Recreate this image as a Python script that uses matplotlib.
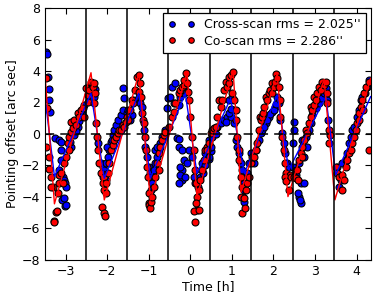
import matplotlib
matplotlib.use('Agg')
import matplotlib.pyplot as plt
import numpy as np

# cross-scan measurements (time [h], offset [arcsec])
cross_points = [
    (-3.47, 5.2), (-3.46, 5.05), (-3.42, 3.6), (-3.40, 2.85), (-3.39, 2.15), (-3.37, 1.4),
    (-3.26, -0.25), (-3.16, -0.4), (-3.12, -0.5), (-3.11, -1.65), (-3.15, -2.29), (-3.07, -2.71),
    (-3.03, -2.92), (-3.02, -3.1), (-2.99, -3.34), (-3.09, -4.2), (-3.01, -4.6), (-2.99, -4.51),
    (-3.03, -4.08), (-3.11, -1.02), (-2.87, -0.8), (-2.79, -0.06), (-2.71, 0.47), (-2.63, 1.1),
    (-2.55, 1.84), (-2.9, -0.5), (-2.75, 0.2), (-2.67, 0.8), (-2.6, 1.4),
    (-2.39, 3.0), (-2.35, 2.58), (-2.31, 2.37), (-2.29, 2.85), (-2.23, -0.59), (-2.15, -1.86),
    (-2.11, -2.07), (-2.07, -2.29), (-2.03, -1.86), (-1.99, -1.44), (-1.95, -1.02), (-1.91, -0.49),
    (-1.87, -0.06), (-1.83, 0.25), (-1.79, 0.57), (-1.75, 0.89), (-1.67, 1.21), (-1.63, 1.52),
    (-1.63, 2.9), (-1.59, 2.26), (-2.11, -2.71), (-2.04, -2.92), (-2.0, -0.8), (-1.88, -0.38),
    (-1.53, 1.31), (-1.49, 1.52), (-1.45, 0.9), (-1.4, 1.2), (-1.37, 2.16), (-1.24, 2.37),
    (-1.2, 1.95), (-1.16, 1.74), (-1.12, 0.25), (-1.08, -0.80), (-1.04, -1.44), (-1.0, -2.07),
    (-0.96, -2.50), (-0.92, -2.71), (-0.88, -2.29), (-0.84, -1.86), (-0.80, -1.44), (-0.76, -1.02),
    (-0.72, -0.59), (-0.68, -0.17), (-0.6, 0.25), (-0.91, -3.13), (-0.94, -3.56), (-0.84, -1.02),
    (-0.8, -0.8),
    (-0.56, 1.63), (-0.54, 2.3), (-0.48, 2.37), (-0.44, 3.0), (-0.40, 1.95), (-0.36, 3.22),
    (-0.28, 1.84), (-0.24, 2.37), (-0.16, 2.58), (-0.12, 2.79), (-0.32, -0.28), (-0.27, -0.3),
    (-0.28, -0.80), (-0.2, -1.02), (-0.16, -1.65), (-0.2, -2.29), (-0.19, -2.92), (-0.25, -2.6),
    (-0.27, -3.1), (-0.12, -2.71), (-0.04, -1.02), (0.04, -1.44), (0.08, -2.71), (0.12, -3.13),
    (0.18, -3.34), (0.24, -2.71), (0.28, -1.86), (0.36, -1.23), (0.42, -0.80), (-0.08, -1.86),
    (-0.24, -2.07), (0.3, -2.5), (0.35, -2.0), (0.45, -1.6), (0.5, -1.1),
    (0.45, -0.38), (0.49, -0.80), (0.45, -1.44), (0.53, -0.17), (0.57, 0.25), (0.65, 0.47),
    (0.73, 0.68), (0.81, 0.89), (0.89, 1.10), (0.97, 1.10), (0.93, 2.16), (1.01, 2.37),
    (1.05, 1.52), (1.06, 0.68), (1.09, -0.38), (1.13, -0.80), (1.17, -1.23), (1.21, -1.86),
    (1.25, -2.29), (1.29, -3.13), (1.30, -3.56), (1.30, -4.30), (1.27, -4.0), (1.37, -2.50),
    (1.41, -1.86), (1.45, -1.23), (0.85, 0.75), (0.93, 1.3), (0.99, 1.6), (0.61, 0.0),
    (1.53, -1.86), (1.59, -1.02), (1.65, -0.38), (1.69, 0.04), (1.73, 0.25), (1.81, 0.68),
    (1.89, 1.10), (1.97, 1.42), (2.05, 1.74), (2.09, 2.37), (2.13, 1.95), (2.17, 0.89),
    (2.21, 0.04), (2.25, -0.59), (2.29, -1.23), (2.33, -1.86), (2.37, -2.07),
    (1.77, 0.45), (1.85, 0.9), (1.93, 1.25), (2.01, 1.55), (2.07, 1.9),
    (2.49, 0.78), (2.50, 0.25), (2.46, -2.07), (2.54, -2.29), (2.55, -2.6), (2.66, -3.13),
    (2.74, -3.13), (2.62, -3.98), (2.66, -4.40), (2.58, -3.77), (2.64, -4.2), (2.70, -0.38),
    (2.78, -0.17), (2.82, -0.80), (2.86, 0.25), (2.90, 0.68), (2.94, 1.21), (3.02, 1.63),
    (3.10, 1.95), (3.14, 2.26), (3.22, 2.58), (3.26, 2.90), (3.30, 2.16), (3.32, 0.89),
    (2.48, -0.59), (2.62, -1.86), (2.74, -1.44),
    (3.54, -2.07), (3.58, -3.34), (3.62, -2.92), (3.66, -1.86), (3.74, -1.65), (3.78, -1.23),
    (3.82, -0.59), (3.86, -0.17), (3.90, 0.25), (3.94, 0.47), (4.02, 1.10), (4.06, 1.52),
    (4.10, 2.16), (4.14, 2.37), (4.21, 2.58), (4.26, 3.0), (4.29, 3.43),
]

# co-scan measurements (time [h], offset [arcsec])
co_points = [
    (-3.48, 3.55), (-3.46, 1.65), (-3.47, -0.8), (-3.39, -1.44), (-3.39, -2.2), (-3.35, -2.71),
    (-3.31, -3.34), (-3.19, -3.77), (-3.23, -4.97), (-3.29, -5.5), (-3.27, -5.6), (-3.22, -4.9),
    (-3.35, -3.4), (-3.17, -3.1), (-3.16, -2.6), (-3.07, -3.13), (-3.11, -2.5), (-3.03, -1.86),
    (-2.99, -1.44), (-2.95, -0.59), (-2.93, -1.0), (-2.93, -0.17), (-2.87, 0.15), (-2.87, 0.78),
    (-2.83, 0.4), (-2.79, 0.89), (-2.75, 0.6), (-2.71, 1.31), (-2.67, 1.1), (-2.63, 1.52),
    (-2.59, 1.63), (-2.55, 1.1),
    (-2.46, 2.0), (-2.46, 2.5), (-2.5, 2.9), (-2.43, 2.79), (-2.39, 3.32), (-2.35, 3.0),
    (-2.32, 3.22), (-2.29, 2.58), (-2.31, 1.95), (-2.27, 0.68), (-2.24, -0.17), (-2.23, -1.02),
    (-2.19, -1.86), (-2.15, -2.5), (-2.11, -3.13), (-2.08, -3.56), (-2.13, -4.61), (-2.08, -5.04),
    (-2.05, -5.2), (-2.03, -3.77), (-2.07, -2.71), (-2.03, -3.13), (-1.99, -2.5), (-1.95, -1.86),
    (-1.91, -1.02), (-1.87, -0.7), (-1.83, -0.38), (-1.79, -0.17), (-1.75, 0.04), (-1.71, 0.25),
    (-1.67, 0.25), (-1.63, 0.57), (-1.59, 0.47), (-1.55, 0.78),
    (-1.53, 1.10), (-1.49, 0.89), (-1.45, 1.52), (-1.41, 2.16), (-1.37, 1.95), (-1.33, 2.79),
    (-1.28, 3.64), (-1.23, 3.75), (-1.2, 3.22), (-1.24, 2.69), (-1.19, 2.37), (-1.16, 1.31),
    (-1.15, 0.89), (-1.12, 0.68), (-1.1, -0.17), (-1.07, -1.02), (-1.04, -2.07), (-1.02, -2.71),
    (-1.0, -3.77), (-0.99, -4.40), (-1.0, -4.51), (-0.96, -4.72), (-0.94, -4.3), (-0.92, -3.98),
    (-0.88, -3.34), (-0.84, -2.71), (-0.76, -2.29), (-0.80, -1.86), (-0.76, -1.23), (-0.72, -0.80),
    (-0.68, -0.38), (-0.64, -0.06), (-0.6, 0.15),
    (-0.52, 0.47), (-0.44, 1.10), (-0.4, 1.42), (-0.36, 1.95), (-0.28, 2.58), (-0.24, 2.79),
    (-0.20, 3.0), (-0.16, 3.11), (-0.14, 3.43), (-0.11, 3.85), (-0.08, 3.22), (-0.06, 2.69),
    (-0.04, 2.16), (0.0, 1.10), (0.04, -0.17), (0.08, -1.02), (0.12, -2.29), (0.13, -3.13),
    (0.16, -3.98), (0.16, -4.83), (0.13, -4.40), (0.12, -5.6), (0.08, -4.87), (0.2, -4.8),
    (0.2, -3.56), (0.24, -2.92), (0.28, -2.29), (0.32, -1.65), (0.36, -1.02), (0.40, -0.80),
    (0.44, -0.59),
    (0.41, -1.02), (0.49, 0.04), (0.53, 0.25), (0.57, 0.36), (0.61, 0.47), (0.65, 1.10),
    (0.69, 2.16), (0.73, 1.74), (0.77, 2.16), (0.81, 2.79), (0.85, 3.32), (0.89, 3.0),
    (0.93, 3.22), (0.93, 3.64), (0.97, 3.75), (1.03, 3.96), (1.01, 2.58), (1.05, 2.16),
    (1.09, 1.52), (1.11, 0.89), (1.13, -0.17), (1.17, -1.02), (1.17, -1.65), (1.21, -2.71),
    (1.25, -3.34), (1.21, -3.98), (1.29, -4.08), (1.25, -5.04), (1.31, -4.72), (1.33, -3.56),
    (1.37, -3.13), (1.41, -2.71), (1.45, -1.86), (1.49, -1.44),
    (1.53, -1.44), (1.57, -1.02), (1.61, -0.59), (1.65, 0.25), (1.67, 1.1), (1.69, 0.89),
    (1.73, 1.10), (1.75, 1.31), (1.77, 1.74), (1.81, 2.37), (1.85, 2.16), (1.89, 2.58),
    (1.93, 2.79), (1.97, 3.22), (1.97, 2.58), (2.01, 3.0), (2.05, 3.32), (2.07, 3.8),
    (2.09, 3.53), (2.13, 3.0), (2.15, 2.16), (2.17, 1.10), (2.21, -0.17), (2.25, -1.02),
    (2.29, -1.86), (2.31, -2.50), (2.35, -2.71), (2.39, -2.60), (2.27, -2.73), (2.3, -3.0),
    (2.38, -3.56), (2.42, -2.71), (2.50, -2.71), (2.54, -2.81), (2.58, -2.92), (2.56, -2.29),
    (2.62, -1.65), (2.66, -1.23), (2.70, -0.80), (2.70, -1.44), (2.74, -0.38), (2.78, 0.25),
    (2.82, 0.04), (2.86, 0.68), (2.90, 1.10), (2.90, 1.74), (2.94, 1.52), (2.98, 1.84),
    (2.98, 2.37), (3.02, 2.16), (3.06, 2.58), (3.10, 3.0), (3.14, 2.79), (3.18, 3.32),
    (3.22, 3.11), (3.26, 3.32), (3.30, 2.58), (3.30, 1.95), (3.33, 0.25), (3.36, -0.06),
    (3.34, -0.59),
    (3.50, -2.07), (3.54, -2.50), (3.58, -2.71), (3.66, -2.60), (3.70, -2.92), (3.66, -3.56),
    (3.74, -2.07), (3.78, -1.65), (3.82, -1.23), (3.86, -1.02), (3.90, -0.59), (3.94, -0.17),
    (3.98, 0.25), (4.02, 0.68), (4.06, 0.89), (4.06, 1.31), (4.10, 1.74), (4.14, 2.16),
    (4.16, 1.52), (4.18, 2.58), (4.24, 3.0), (4.29, 3.32), (4.30, -1.02),
]

# model curves (vertices)
co_model_t = [-3.49, -3.27, -2.39, -2.07, -1.24, -0.96, -0.08, 0.16, 1.03, 1.22, 2.09, 2.35, 3.22, 3.48, 4.34]
co_model = [3.53, -4.44, 3.89, -4.19, 3.85, -4.19, 3.89, -3.98, 4.02, -3.7, 3.81, -3.98, 3.47, -4.19, 3.53]
cross_model_t = [-3.49, -3.27, -2.39, -2.07, -1.24, -0.96, -0.12, 0.16, 0.97, 1.30, 2.09, 2.37, 3.26, 3.50, 4.34]
cross_model = [2.2, -2.71, 2.58, -2.81, 2.58, -2.81, 2.58, -2.5, 2.26, -2.5, 2.48, -2.29, 2.37, -2.6, 2.37]

# scan boundaries [h]
scan_edges = [-2.52, -1.52, -0.53, 0.48, 1.47, 2.47, 3.47]

cross_rms = 2.025
co_rms = 2.286

plt.rcParams['font.family'] = 'DejaVu Sans'
plt.rcParams['font.size'] = 9

fig, ax = plt.subplots(figsize=(3.74, 2.97), dpi=100)
fig.subplots_adjust(left=0.12, right=0.991, top=0.973, bottom=0.125)

cross = np.array(cross_points)
co = np.array(co_points)

ax.plot(cross[:, 0], cross[:, 1], 'o', color='blue', markeredgecolor='black',
        markeredgewidth=0.8, markersize=5.0,
        label="Cross-scan rms = %.3f''" % cross_rms)
ax.plot(co[:, 0], co[:, 1], 'o', color='red', markeredgecolor='black',
        markeredgewidth=0.8, markersize=5.0,
        label="Co-scan rms = %.3f''" % co_rms)

ax.plot(cross_model_t, cross_model, '-', color='blue', lw=1.0)
ax.plot(co_model_t, co_model, '-', color='red', lw=1.0)

for t in scan_edges:
    ax.axvline(t, color='black', lw=1.1)
ax.axhline(0, color='black', lw=1.1, ls='--', dashes=(6, 4))

ax.set_xlim(-3.5, 4.34)
ax.set_ylim(-8, 8)
ax.set_xticks([-3, -2, -1, 0, 1, 2, 3, 4])
ax.set_yticks([-8, -6, -4, -2, 0, 2, 4, 6, 8])
ax.tick_params(direction='in', top=True, right=True, length=4, width=0.8)
ax.set_xlabel('Time [h]', labelpad=2)
ax.set_ylabel('Pointing offset [arc sec]', labelpad=2)

leg = ax.legend(loc='upper right', numpoints=2, fancybox=False, framealpha=1,
                edgecolor='black', fontsize=9, markerscale=0.8,
                handletextpad=0.74, borderpad=0.4, labelspacing=0.3,
                handlelength=2.1, borderaxespad=0.4)
leg.get_frame().set_linewidth(0.9)

fig.savefig('out.png', dpi=100)
